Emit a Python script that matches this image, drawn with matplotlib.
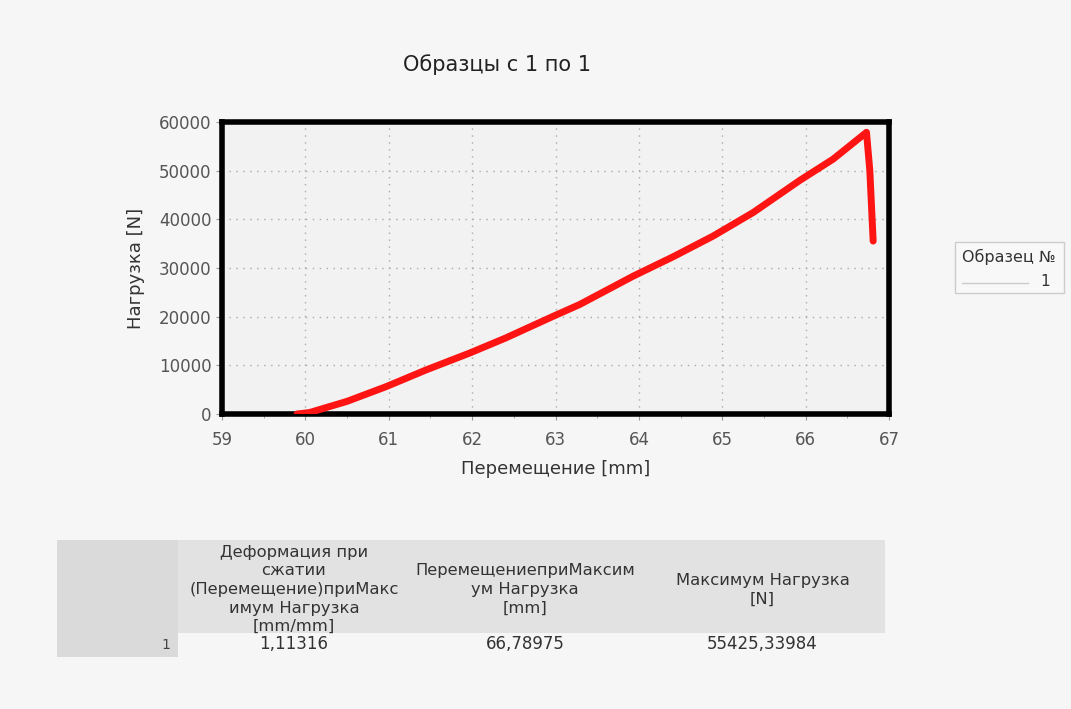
import numpy as np
import matplotlib.pyplot as plt
from matplotlib.patches import Rectangle

# curve (hand-traced red line)
disp_mm = [59.90, 60.05, 60.50, 60.97, 61.45, 61.97, 62.40, 62.97, 63.29, 63.93,
           64.41, 64.89, 65.37, 65.93, 66.33, 66.73, 66.77, 66.81]
load_n = [0, 300, 2600, 5630, 9070, 12520, 15600, 20060, 22500, 28310,
          32300, 36560, 41390, 48000, 52370, 57880, 50000, 35530]

x_ticks = [59, 60, 61, 62, 63, 64, 65, 66, 67]
y_ticks = [0, 10000, 20000, 30000, 40000, 50000, 60000]

table_headers = ["Деформация при\nсжатии\n(Перемещение)приМакс\nимум Нагрузка\n[mm/mm]",
                 "ПеремещениеприМаксим\nум Нагрузка\n[mm]",
                 "Максимум Нагрузка\n[N]"]
table_row_label = "1"
table_values = ["1,11316", "66,78975", "55425,33984"]

BG = "#f6f6f6"
TXT = "#555555"

fig = plt.figure(figsize=(10.71, 7.09), dpi=100, facecolor=BG)
W, H = 1071, 709


def fx(px):
    return px / W


def fy(py):
    return 1 - py / H


ax = fig.add_axes([fx(222), fy(414), fx(889) - fx(222), fy(122) - fy(414)])
ax.set_facecolor("#f2f2f2")
ax.plot(disp_mm, load_n, color="#ff1414", linewidth=5, solid_capstyle="round",
        solid_joinstyle="round", zorder=3)
ax.set_xlim(59, 67)
ax.set_ylim(0, 60000)
ax.set_xticks(x_ticks)
ax.set_yticks(y_ticks)
ax.set_xticks(np.arange(59.5, 67, 1), minor=True)
ax.grid(True, linestyle=(0, (1, 4)), color="#aaaaaa", linewidth=1)
for s in ax.spines.values():
    s.set_linewidth(4)
    s.set_color("black")
ax.tick_params(axis="both", which="major", labelsize=12, labelcolor=TXT,
               color="#999999", length=4)
ax.tick_params(axis="x", which="major", pad=8)
ax.tick_params(axis="x", which="minor", color="#999999", length=3)
ax.set_xlabel("Перемещение [mm]", fontsize=13, color="#333333", labelpad=8)
ax.set_ylabel("Нагрузка [N]", fontsize=13, color="#333333", labelpad=10)

fig.text(fx(497), fy(65), "Образцы с 1 по 1", fontsize=15, color="#222222",
         ha="center", va="center")

# legend box on the right
fig.patches.append(Rectangle((fx(955), fy(293)), fx(1064) - fx(955), fy(242) - fy(293),
                             transform=fig.transFigure, facecolor="#f8f8f8",
                             edgecolor="#cccccc", linewidth=1))
fig.text(fx(1009), fy(257), "Образец №", fontsize=11.5, color="#333333",
         ha="center", va="center")
fig.lines.append(plt.Line2D([fx(962), fx(1028)], [fy(283), fy(283)],
                            transform=fig.transFigure, color="#cccccc", linewidth=1))
fig.text(fx(1050), fy(281), "1", fontsize=11, color="#333333", ha="right", va="center")

# results table
col_edges = [57, 178, 410, 640, 885]
head_top, head_bot, row_bot = 540, 633, 657
fig.patches.append(Rectangle((fx(col_edges[0]), fy(row_bot)),
                             fx(col_edges[1]) - fx(col_edges[0]), fy(head_top) - fy(row_bot),
                             transform=fig.transFigure, facecolor="#dadada", edgecolor="none"))
fig.patches.append(Rectangle((fx(col_edges[1]), fy(head_bot)),
                             fx(col_edges[-1]) - fx(col_edges[1]), fy(head_top) - fy(head_bot),
                             transform=fig.transFigure, facecolor="#e2e2e2", edgecolor="none"))
for i, (hdr, val) in enumerate(zip(table_headers, table_values)):
    cx = (col_edges[i + 1] + col_edges[i + 2]) / 2
    fig.text(fx(cx), fy((head_top + head_bot) / 2 + 3), hdr, fontsize=11.8, color="#333333",
             ha="center", va="center", linespacing=1.3)
    fig.text(fx(cx), fy(644), val, fontsize=12, color="#333333", ha="center", va="center")
fig.text(fx(170), fy(645), table_row_label, fontsize=10, color="#444444",
         ha="right", va="center")

fig.savefig("out.png", dpi=100, facecolor=BG)
